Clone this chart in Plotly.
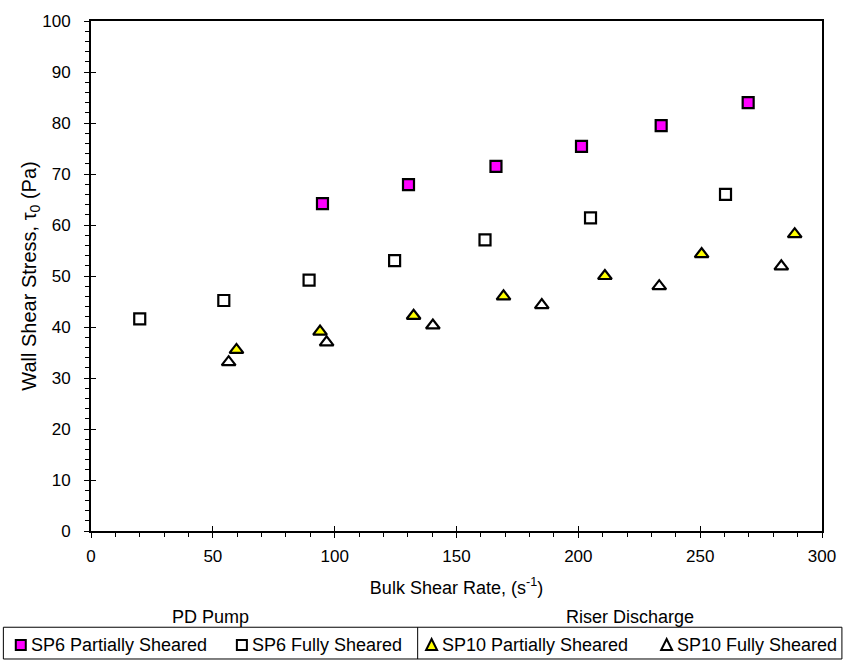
import plotly.graph_objects as go

# ---- data ----
sp6_partial_x = [95.0, 130.3, 166.2, 201.3, 234.0, 269.7]
sp6_partial_y = [64.2, 67.9, 71.5, 75.4, 79.5, 84.0]

sp6_full_x = [20.0, 54.5, 89.5, 124.6, 161.7, 205.0, 260.4]
sp6_full_y = [41.6, 45.2, 49.2, 53.0, 57.1, 61.4, 66.0]

sp10_partial_x = [59.7, 94.0, 132.4, 169.3, 210.9, 250.6, 288.8]
sp10_partial_y = [35.5, 39.1, 42.2, 46.0, 50.0, 54.3, 58.2]

sp10_full_x = [56.5, 96.7, 140.3, 185.0, 233.2, 283.3]
sp10_full_y = [33.1, 37.0, 40.3, 44.3, 48.0, 51.9]

legend_labels = ["SP6 Partially Sheared", "SP6 Fully Sheared",
                 "SP10 Partially Sheared", "SP10 Fully Sheared"]
group_labels = ["PD Pump", "Riser Discharge"]

FONT = "Liberation Sans, Arial, sans-serif"
W, H = 848, 661
ML, MR, MT, MB = 91, 23, 17, 130
PW, PH = W - ML - MR, H - MT - MB


def px(xp):
    return (xp - ML) / PW


def py(yp):
    return (H - MB - yp) / PH


fig = go.Figure()

mk_common = dict(line=dict(color="black", width=2.2))
fig.add_trace(go.Scatter(x=sp6_partial_x, y=sp6_partial_y, mode="markers", name=legend_labels[0],
                         marker=dict(symbol="square", size=11, color="#ff00ff", **mk_common)))
fig.add_trace(go.Scatter(x=sp6_full_x, y=sp6_full_y, mode="markers", name=legend_labels[1],
                         marker=dict(symbol="square", size=11, color="white", **mk_common)))
fig.add_trace(go.Scatter(x=sp10_partial_x, y=sp10_partial_y, mode="markers", name=legend_labels[2],
                         marker=dict(symbol="triangle-up", size=12, color="#ffff00", **mk_common)))
fig.add_trace(go.Scatter(x=sp10_full_x, y=sp10_full_y, mode="markers", name=legend_labels[3],
                         marker=dict(symbol="triangle-up", size=12, color="white", **mk_common)))

# invisible trace on overlay axes to show crossing major ticks
fig.add_trace(go.Scatter(x=[None], y=[None], xaxis="x2", yaxis="y2", showlegend=False, hoverinfo="skip"))

axis_font = dict(family=FONT, size=17, color="black")
fig.update_layout(
    width=W, height=H,
    margin=dict(l=ML, r=MR, t=MT, b=MB),
    paper_bgcolor="white", plot_bgcolor="white",
    showlegend=False,
    font=dict(family=FONT, size=17, color="black"),
    xaxis=dict(range=[0, 300], dtick=50, tick0=0, showgrid=False, zeroline=False,
               showline=True, linecolor="black", linewidth=2, mirror=True,
               ticks="outside", ticklen=5, tickwidth=1, tickcolor="black",
               minor=dict(dtick=10, ticks="outside", ticklen=4, tickcolor="black", tickwidth=1),
               tickfont=axis_font, ticklabelstandoff=4,
               title=dict(text="Bulk Shear Rate, (s<sup>-1</sup>)", font=dict(family=FONT, size=18),
                          standoff=16)),
    yaxis=dict(range=[0, 100], dtick=10, tick0=0, showgrid=False, zeroline=False,
               showline=True, linecolor="black", linewidth=2, mirror=True,
               ticks="outside", ticklen=5, tickwidth=1, tickcolor="black",
               minor=dict(dtick=2, ticks="outside", ticklen=4, tickcolor="black", tickwidth=1),
               tickfont=axis_font, ticklabelstandoff=10,
               title=dict(text="Wall Shear Stress, τ<sub>0</sub> (Pa)", font=dict(family=FONT, size=20),
                          standoff=0)),
    xaxis2=dict(range=[0, 300], dtick=50, tick0=0, overlaying="x", side="bottom",
                showgrid=False, zeroline=False, showline=False, showticklabels=False,
                ticks="inside", ticklen=5, tickwidth=1, tickcolor="black"),
    yaxis2=dict(range=[0, 100], dtick=10, tick0=0, overlaying="y", side="left",
                showgrid=False, zeroline=False, showline=False, showticklabels=False,
                ticks="inside", ticklen=5, tickwidth=1, tickcolor="black"),
)

shapes = []
annotations = []
# legend box
box_l, box_r, box_t, box_b = 3, 845, 628, 660
shapes.append(dict(type="rect", xref="paper", yref="paper", x0=px(box_l), x1=px(box_r),
                   y0=py(box_b), y1=py(box_t), line=dict(color="black", width=1), fillcolor="white",
                   layer="above"))
shapes.append(dict(type="line", xref="paper", yref="paper", x0=px(419), x1=px(419),
                   y0=py(box_b), y1=py(box_t), line=dict(color="black", width=1)))

# group labels
annotations.append(dict(text=group_labels[0], xref="paper", yref="paper", x=px(211), y=py(618),
                        xanchor="center", yanchor="middle", showarrow=False,
                        font=dict(family=FONT, size=18)))
annotations.append(dict(text=group_labels[1], xref="paper", yref="paper", x=px(632), y=py(618),
                        xanchor="center", yanchor="middle", showarrow=False,
                        font=dict(family=FONT, size=18)))

leg_y = 646
marker_specs = [
    ("square", "#ff00ff", 20.5, 29),
    ("square", "white", 242.5, 251),
    ("triangle", "#ffff00", 433, 441),
    ("triangle", "white", 669, 677),
]
for (kind, color, mx, tx), label in zip(marker_specs, legend_labels):
    if kind == "square":
        shapes.append(dict(type="rect", xref="paper", yref="paper",
                           xsizemode="pixel", ysizemode="pixel",
                           xanchor=px(mx), yanchor=py(leg_y),
                           x0=-5, x1=5, y0=-5, y1=5,
                           line=dict(color="black", width=2), fillcolor=color, layer="above"))
    else:
        shapes.append(dict(type="path", xref="paper", yref="paper",
                           xsizemode="pixel", ysizemode="pixel",
                           xanchor=px(mx), yanchor=py(leg_y),
                           path="M -5.5,-5 L 5.5,-5 L 0,6 Z",
                           line=dict(color="black", width=2), fillcolor=color, layer="above"))
    annotations.append(dict(text=label, xref="paper", yref="paper", x=px(tx), y=py(leg_y),
                            xanchor="left", yanchor="middle", showarrow=False,
                            font=dict(family=FONT, size=18)))

fig.update_layout(shapes=shapes, annotations=annotations)
fig.write_html("out.html")
